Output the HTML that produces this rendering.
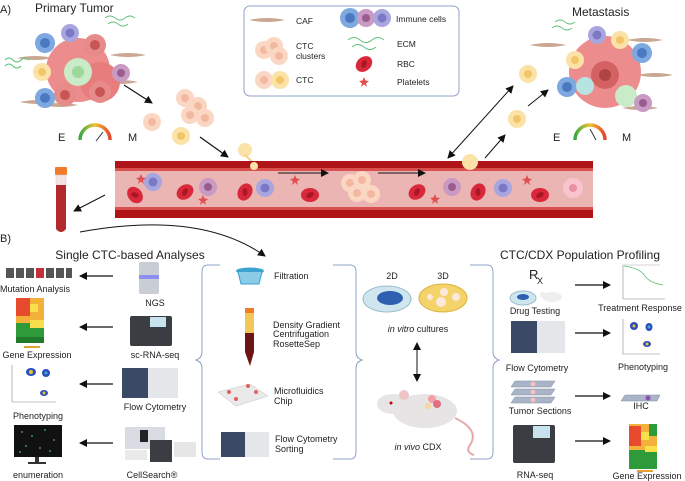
<!DOCTYPE html>
<html><head><meta charset="utf-8"><style>
html,body{margin:0;padding:0;background:#fff;}
svg{display:block;font-family:"Liberation Sans",sans-serif;}
</style></head><body>
<svg width="685" height="481" viewBox="0 0 685 481" xmlns="http://www.w3.org/2000/svg">
<defs>
<marker id="ah" markerWidth="8" markerHeight="8" refX="7" refY="4" orient="auto" markerUnits="userSpaceOnUse"><path d="M0,0 L8,4 L0,8 z" fill="#111"/></marker>
<marker id="ahs" markerWidth="8" markerHeight="8" refX="1" refY="4" orient="auto" markerUnits="userSpaceOnUse"><path d="M8,0 L0,4 L8,8 z" fill="#111"/></marker>
<linearGradient id="g1"><stop offset="0" stop-color="#3aa845"/><stop offset="0.5" stop-color="#f2c12e"/><stop offset="1" stop-color="#e3462e"/></linearGradient>
<g id="rbc"><ellipse rx="9" ry="7" fill="#d8283a"/><ellipse rx="4" ry="2.5" fill="#a81726" transform="rotate(-30)"/></g>
<g id="blue"><circle r="10" fill="#7ea8e0"/><circle r="5" fill="#4b78c0"/></g>
<g id="lav"><circle r="9" fill="#a9a6df"/><circle r="4.5" fill="#7b78c6"/></g>
<g id="purp"><circle r="9" fill="#c99ac3"/><circle r="4" fill="#9a5b8e"/></g>
<g id="red"><circle r="11" fill="#e78a8a"/><circle r="5" fill="#c95555"/></g>
<g id="yel"><circle r="9" fill="#fbe2a6"/><circle r="4" fill="#f3c56b"/></g>
<g id="pea"><circle r="9" fill="#fbd7c3"/><circle r="4" fill="#f2b9a0"/></g>
<g id="caf"><path d="M-18,0 Q0,-4 18,0 Q0,4 -18,0z" fill="#c9a792"/></g>
<g id="plt"><path d="M0,-5 L1.5,-1.5 5,-1 2,1.5 3,5 0,2.5 -3,5 -2,1.5 -5,-1 -1.5,-1.5z" fill="#e05050"/></g>
</defs>

<text x="0" y="13" font-size="11" fill="#222">A)</text>
<text x="35" y="12" font-size="12" fill="#222">Primary Tumor</text>

<!-- primary tumor cluster -->
<g>
<use href="#caf" x="35" y="58"/><use href="#caf" x="128" y="55"/><use href="#caf" x="38" y="102"/><use href="#caf" x="60" y="105"/><use href="#caf" x="120" y="82"/>
<circle cx="78" cy="70" r="32" fill="#ec8c8c"/>
<circle cx="100" cy="82" r="20" fill="#e77d7d"/>
<use href="#red" x="95" y="45"/><use href="#red" x="65" y="95"/><use href="#red" x="100" y="92"/>
<use href="#blue" x="45" y="43"/><use href="#lav" x="70" y="33"/><use href="#yel" x="42" y="72"/>
<circle cx="78" cy="72" r="14" fill="#c9ebc7"/><circle cx="78" cy="72" r="6" fill="#9fd89d"/>
<use href="#blue" x="45" y="98"/><use href="#purp" x="121" y="73"/>
<path d="M105,18 q5,-4 10,0 t10,0 t10,0 M108,24 q5,-4 10,0 t10,0" stroke="#5fc27a" stroke-width="1" fill="none"/>
<path d="M5,60 q4,-4 8,0 t8,0 t8,0 M5,66 q4,-4 8,0 t8,0" stroke="#5fc27a" stroke-width="1" fill="none"/>
</g>
<line x1="124" y1="85" x2="152" y2="103" stroke="#111" stroke-width="1.2" marker-end="url(#ah)"/>

<use href="#pea" x="152" y="122"/>
<use href="#pea" x="185" y="98"/><use href="#pea" x="198" y="106"/><use href="#pea" x="190" y="115"/><use href="#pea" x="205" y="118"/>
<use href="#yel" x="181" y="136"/>
<line x1="200" y1="137" x2="228" y2="157" stroke="#111" stroke-width="1.2" marker-end="url(#ah)"/>
<circle cx="245" cy="150" r="7" fill="#fbe2a6"/><path d="M245,155 L259,168" stroke="#f3d38a" stroke-width="2"/>

<text x="58" y="141" font-size="11" fill="#222">E</text>
<path d="M80,140 A15,15 0 0 1 110,140" stroke="url(#g1)" stroke-width="3.5" fill="none"/>
<line x1="96" y1="141" x2="103" y2="132" stroke="#333" stroke-width="1"/>
<text x="128" y="141" font-size="11" fill="#222">M</text>
<text x="553" y="141" font-size="11" fill="#222">E</text>
<path d="M575,140 A15,15 0 0 1 605,140" stroke="url(#g1)" stroke-width="3.5" fill="none"/>
<line x1="590" y1="129" x2="596" y2="140" stroke="#333" stroke-width="1"/>
<text x="622" y="141" font-size="11" fill="#222">M</text>

<!-- legend -->
<rect x="244" y="6" width="215" height="90" rx="6" fill="#fff" stroke="#8ea3c7" stroke-width="1"/>
<use href="#caf" x="267" y="20"/><text x="296" y="24" font-size="8.5" fill="#222">CAF</text>
<use href="#blue" x="350" y="18"/><use href="#purp" x="366" y="18"/><use href="#lav" x="382" y="18"/>
<text x="396" y="22" font-size="8.5" fill="#222">Immune cells</text>
<use href="#pea" x="264" y="50"/><use href="#pea" x="274" y="46"/><use href="#pea" x="279" y="56"/>
<text x="296" y="49" font-size="8.5" fill="#222">CTC</text><text x="296" y="59" font-size="8.5" fill="#222">clusters</text>
<path d="M348,40 q6,-5 12,0 t12,0 t12,0 M352,47 q6,-5 12,0 t12,0" stroke="#5fc27a" stroke-width="1" fill="none"/>
<text x="397" y="47" font-size="8.5" fill="#222">ECM</text>
<use href="#rbc" x="364" y="64" transform="rotate(-40 364 64)"/><text x="397" y="67" font-size="8.5" fill="#222">RBC</text>
<use href="#pea" x="264" y="80"/><use href="#yel" x="280" y="80"/>
<text x="296" y="83" font-size="8.5" fill="#222">CTC</text>
<use href="#plt" x="364" y="82"/><text x="397" y="85" font-size="8.5" fill="#222">Platelets</text>

<!-- metastasis -->
<text x="572" y="16" font-size="12" fill="#222">Metastasis</text>
<g>
<use href="#caf" x="548" y="45"/><use href="#caf" x="645" y="40"/><use href="#caf" x="655" y="75"/><use href="#caf" x="640" y="108"/>
<circle cx="605" cy="72" r="36" fill="#ec8c8c"/>
<use href="#lav" x="597" y="35"/><use href="#yel" x="620" y="40"/><use href="#yel" x="575" y="60"/>
<use href="#blue" x="642" y="53"/><circle cx="605" cy="75" r="14" fill="#d46262"/><circle cx="605" cy="75" r="6" fill="#b04444"/>
<use href="#blue" x="567" y="87"/><circle cx="585" cy="86" r="9" fill="#b7e3e0"/>
<circle cx="626" cy="96" r="11" fill="#c9ebc7"/><use href="#purp" x="643" y="103"/>
<path d="M555,22 q5,-4 10,0 t10,0 M552,28 q5,-4 10,0 t10,0" stroke="#5fc27a" stroke-width="1" fill="none"/>
</g>
<use href="#yel" x="528" y="74"/><use href="#yel" x="517" y="119"/>
<line x1="513" y1="86" x2="448" y2="158" stroke="#111" stroke-width="1" marker-start="url(#ahs)" marker-end="url(#ah)"/>
<line x1="485" y1="158" x2="505" y2="135" stroke="#111" stroke-width="1" marker-end="url(#ah)"/>
<line x1="528" y1="106" x2="548" y2="90" stroke="#111" stroke-width="1" marker-end="url(#ah)"/>

<!-- vessel -->
<rect x="115" y="161" width="478" height="57" fill="#b01418"/>
<rect x="115" y="168" width="478" height="3" fill="#d9504f"/>
<rect x="115" y="171" width="478" height="36" fill="#eab5b2"/>
<rect x="115" y="207" width="478" height="3" fill="#d9504f"/>
<circle cx="470" cy="162" r="8" fill="#fbe2a6"/>
<circle cx="254" cy="166" r="4" fill="#fbe2a6"/>
<line x1="278" y1="173" x2="328" y2="173" stroke="#111" stroke-width="1" marker-end="url(#ah)"/>
<line x1="378" y1="173" x2="425" y2="173" stroke="#111" stroke-width="1" marker-end="url(#ah)"/>
<use href="#rbc" x="135" y="195" transform="rotate(50 135 195)"/><use href="#lav" x="153" y="182"/><use href="#plt" x="141" y="179"/>
<use href="#rbc" x="185" y="192" transform="rotate(-35 185 192)"/><use href="#purp" x="208" y="187"/><use href="#plt" x="203" y="200"/>
<use href="#rbc" x="245" y="192" transform="rotate(-60 245 192)"/><use href="#lav" x="265" y="188"/><use href="#plt" x="295" y="180"/>
<use href="#rbc" x="310" y="195"/>
<use href="#pea" x="350" y="183"/><use href="#pea" x="362" y="180"/><use href="#pea" x="357" y="193"/><use href="#pea" x="371" y="194"/>
<use href="#rbc" x="417" y="192" transform="rotate(-35 417 192)"/><use href="#plt" x="435" y="199"/><use href="#purp" x="452" y="187"/>
<use href="#rbc" x="478" y="192" transform="rotate(-60 478 192)"/><use href="#lav" x="503" y="188"/><use href="#plt" x="527" y="180"/>
<use href="#rbc" x="540" y="195"/><circle cx="573" cy="188" r="10" fill="#f8c5cf"/><circle cx="573" cy="188" r="4" fill="#ec8fa2"/>

<!-- tube -->
<rect x="55" y="167" width="12" height="8" rx="1" fill="#f27a28"/>
<rect x="56" y="175" width="10" height="10" fill="#f3e3e3" stroke="#ccc" stroke-width="0.5"/>
<path d="M56,185 L66,185 L66,229 Q61,235 56,229 Z" fill="#b32a2e"/>
<line x1="105" y1="195" x2="74" y2="211" stroke="#111" stroke-width="1" marker-end="url(#ah)"/>
<path d="M80,232 Q200,210 265,256" stroke="#111" stroke-width="1" fill="none" marker-end="url(#ah)"/>

<!-- B) -->
<text x="0" y="242" font-size="11" fill="#222">B)</text>
<text x="130" y="259" font-size="12" fill="#222" text-anchor="middle">Single CTC-based Analyses</text>
<text x="580" y="259" font-size="12" fill="#222" text-anchor="middle">CTC/CDX Population Profiling</text>

<g font-size="9" fill="#222" text-anchor="middle">
<text x="35" y="292">Mutation Analysis</text>
<text x="155" y="306">NGS</text>
<text x="37" y="358">Gene Expression</text>
<text x="155" y="358">sc-RNA-seq</text>
<text x="38" y="419">Phenotyping</text>
<text x="155" y="410">Flow Cytometry</text>
<text x="38" y="478">enumeration</text>
<text x="152" y="478">CellSearch®</text>
</g>
<g stroke="#111" stroke-width="1.2">
<line x1="113" y1="276" x2="80" y2="276" marker-end="url(#ah)"/>
<line x1="113" y1="327" x2="80" y2="327" marker-end="url(#ah)"/>
<line x1="113" y1="384" x2="80" y2="384" marker-end="url(#ah)"/>
<line x1="113" y1="443" x2="80" y2="443" marker-end="url(#ah)"/>
</g>
<g>
<rect x="6" y="268" width="8" height="10" fill="#555"/><rect x="16" y="268" width="8" height="10" fill="#555"/><rect x="26" y="268" width="8" height="10" fill="#555"/><rect x="36" y="268" width="8" height="10" fill="#c2303a"/><rect x="46" y="268" width="8" height="10" fill="#555"/><rect x="56" y="268" width="8" height="10" fill="#555"/><rect x="66" y="268" width="6" height="10" fill="#555"/>
</g>
<g>
<rect x="16" y="298" width="28" height="45" fill="#f3b13a"/>
<rect x="16" y="298" width="14" height="18" fill="#e84a2e"/><rect x="30" y="304" width="8" height="8" fill="#f7e04b"/>
<rect x="16" y="323" width="28" height="20" fill="#2f9a3a"/><rect x="30" y="320" width="14" height="8" fill="#f7e04b"/><rect x="16" y="337" width="28" height="6" fill="#1f7a2a"/>
<rect x="24" y="346" width="16" height="2" fill="#e8a030"/>
</g>
<g>
<line x1="12" y1="365" x2="12" y2="402" stroke="#888" stroke-width="0.6"/><line x1="12" y1="402" x2="56" y2="402" stroke="#888" stroke-width="0.6"/>
<ellipse cx="31" cy="372" rx="5" ry="4" fill="#2c4dbf"/><circle cx="31" cy="372" r="2" fill="#e6c52a"/>
<ellipse cx="46" cy="373" rx="4" ry="4" fill="#2c4dbf"/><circle cx="46" cy="373" r="1.5" fill="#3ab3c8"/>
<ellipse cx="44" cy="393" rx="4" ry="3" fill="#2c4dbf"/><circle cx="44" cy="393" r="1.5" fill="#e6c52a"/>
</g>
<rect x="14" y="425" width="48" height="32" fill="#111"/><rect x="35" y="457" width="4" height="6" fill="#333"/><rect x="28" y="462" width="18" height="2" fill="#333"/>
<g fill="#3a8a9a"><circle cx="22" cy="432" r="1"/><circle cx="32" cy="436" r="1"/><circle cx="45" cy="430" r="1"/><circle cx="54" cy="440" r="1"/><circle cx="26" cy="446" r="1"/><circle cx="40" cy="448" r="1"/><circle cx="50" cy="451" r="1"/><circle cx="20" cy="452" r="1"/></g>
<rect x="139" y="262" width="20" height="32" rx="2" fill="#c9cdd4"/><rect x="139" y="275" width="20" height="4" fill="#8a8ff0"/>
<rect x="130" y="316" width="42" height="30" rx="2" fill="#3a3d42"/><rect x="150" y="317" width="16" height="10" fill="#c9e3ee"/>
<rect x="122" y="368" width="26" height="30" fill="#3a4a66"/><rect x="148" y="368" width="30" height="30" fill="#e4e6ea"/>
<rect x="125" y="427" width="40" height="22" fill="#d9dce2"/><rect x="140" y="430" width="8" height="12" fill="#222"/><rect x="150" y="440" width="22" height="22" fill="#3a3d42"/><rect x="174" y="442" width="22" height="15" fill="#e6e6e6"/><rect x="125" y="450" width="22" height="10" fill="#eaeaea"/>

<g stroke="#8ea3c7" stroke-width="1" fill="none">
<path d="M220,265 L208,265 Q202,265 202,272 L202,352 Q202,358 196,360 Q202,362 202,368 L202,452 Q202,459 208,459 L220,459"/>
<path d="M333,265 L350,265 Q356,265 356,272 L356,352 Q356,358 362,360 Q356,362 356,368 L356,452 Q356,459 350,459 L333,459"/>
<path d="M470,265 L487,265 Q493,265 493,272 L493,352 Q493,358 499,360 Q493,362 493,368 L493,452 Q493,459 487,459 L470,459"/>
</g>

<g>
<ellipse cx="250" cy="271" rx="14" ry="3.5" fill="#3ba2d2"/><path d="M238,272 L241,284 L259,284 L262,272" fill="#8ccbe6" stroke="#3ba2d2"/>
<rect x="245" y="308" width="9" height="5" fill="#f27a28"/><path d="M245,313 L254,313 L254,352 L250,366 L245,352Z" fill="#f2c75a"/><path d="M245,333 L254,333 L254,352 L250,366 L245,352Z" fill="#6b1515"/>
<path d="M218,392 L250,384 L268,396 L236,406Z" fill="#eaeaea" stroke="#ccc" stroke-width="0.6"/><circle cx="229" cy="392" r="2" fill="#e06060"/><circle cx="256" cy="392" r="2" fill="#e06060"/><circle cx="236" cy="399" r="2" fill="#e06060"/><circle cx="248" cy="386" r="2" fill="#e06060"/>
<rect x="221" y="432" width="24" height="25" fill="#3a4a66"/><rect x="245" y="432" width="24" height="25" fill="#e4e6ea"/>
</g>
<g font-size="9" fill="#222">
<text x="274" y="279">Filtration</text>
<text x="273" y="328">Density Gradient</text>
<text x="273" y="337">Centrifugation</text>
<text x="273" y="347">RosetteSep</text>
<text x="274" y="394">Microfluidics</text>
<text x="274" y="404">Chip</text>
<text x="275" y="442">Flow Cytometry</text>
<text x="275" y="452">Sorting</text>
</g>

<text x="392" y="279" font-size="9" fill="#222" text-anchor="middle">2D</text>
<text x="443" y="279" font-size="9" fill="#222" text-anchor="middle">3D</text>
<ellipse cx="387" cy="299" rx="24" ry="13" fill="#cfe6ef" stroke="#9bbccc"/>
<ellipse cx="390" cy="298" rx="13" ry="7" fill="#2f5fb0"/>
<ellipse cx="443" cy="298" rx="24" ry="14" fill="#f3d36a" stroke="#d9b440"/>
<circle cx="444" cy="292" r="4" fill="#fde8dc"/><circle cx="441" cy="302" r="5" fill="#fde8dc"/><circle cx="456" cy="297" r="4" fill="#fde8dc"/><circle cx="430" cy="297" r="3" fill="#fde8dc"/>
<text x="418" y="332" font-size="9" fill="#222" text-anchor="middle"><tspan font-style="italic">in vitro</tspan> cultures</text>
<line x1="417" y1="343" x2="417" y2="381" stroke="#111" stroke-width="1" marker-start="url(#ahs)" marker-end="url(#ah)"/>
<g>
<ellipse cx="425" cy="411" rx="32" ry="17" fill="#e6e4e4"/>
<ellipse cx="393" cy="404" rx="16" ry="10" fill="#e6e4e4"/>
<circle cx="404" cy="395" r="5" fill="#eec4c4"/><circle cx="391" cy="403" r="1.5" fill="#c00"/>
<path d="M455,418 Q480,430 470,445 Q465,452 474,455" stroke="#e9a8a8" stroke-width="2" fill="none"/>
<circle cx="432" cy="399" r="4" fill="#f4a0a8"/><circle cx="437" cy="404" r="4" fill="#e07080"/><circle cx="428" cy="406" r="3" fill="#f7d6a0"/>
</g>
<text x="418" y="450" font-size="9" fill="#222" text-anchor="middle"><tspan font-style="italic">in vivo</tspan> CDX</text>

<text x="529" y="279" font-size="13" fill="#222">R</text><text x="537" y="284" font-size="9" fill="#222">X</text>
<ellipse cx="523" cy="298" rx="13" ry="7" fill="#cfe6ef" stroke="#9bbccc"/><ellipse cx="523" cy="297" rx="6" ry="3" fill="#2f5fb0"/>
<ellipse cx="552" cy="297" rx="10" ry="5" fill="#f0eded"/><circle cx="543" cy="295" r="3" fill="#f0eded"/>
<g font-size="9" fill="#222" text-anchor="middle">
<text x="535" y="314">Drug Testing</text>
<text x="640" y="311">Treatment Response</text>
<text x="537" y="371">Flow Cytometry</text>
<text x="643" y="370">Phenotyping</text>
<text x="540" y="414">Tumor Sections</text>
<text x="641" y="409">IHC</text>
<text x="535" y="478">RNA-seq</text>
<text x="647" y="479">Gene Expression</text>
</g>
<g stroke="#111" stroke-width="1.2">
<line x1="575" y1="285" x2="610" y2="285" marker-end="url(#ah)"/>
<line x1="575" y1="333" x2="610" y2="333" marker-end="url(#ah)"/>
<line x1="575" y1="396" x2="610" y2="396" marker-end="url(#ah)"/>
<line x1="575" y1="441" x2="610" y2="441" marker-end="url(#ah)"/>
</g>
<line x1="623" y1="265" x2="623" y2="299" stroke="#888" stroke-width="0.6"/><line x1="623" y1="299" x2="665" y2="299" stroke="#888" stroke-width="0.6"/>
<line x1="623" y1="265" x2="660" y2="265" stroke="#aaa" stroke-width="0.6"/>
<path d="M624,266 Q640,268 645,276 Q650,283 663,285" stroke="#5fc27a" stroke-width="0.8" fill="none"/>
<line x1="623" y1="319" x2="623" y2="354" stroke="#888" stroke-width="0.6"/><line x1="623" y1="354" x2="660" y2="354" stroke="#888" stroke-width="0.6"/>
<ellipse cx="634" cy="326" rx="4" ry="4" fill="#2c4dbf"/><circle cx="634" cy="326" r="1.5" fill="#e6c52a"/>
<ellipse cx="649" cy="327" rx="3.5" ry="4" fill="#2c4dbf"/><circle cx="649" cy="327" r="1.5" fill="#3ab3c8"/>
<ellipse cx="647" cy="344" rx="4" ry="3" fill="#2c4dbf"/><circle cx="647" cy="344" r="1.5" fill="#e6c52a"/>
<rect x="511" y="321" width="26" height="32" fill="#3a4a66"/><rect x="537" y="321" width="28" height="32" fill="#e4e6ea"/>
<g fill="#aab4c8" stroke="#7e8aa0" stroke-width="0.5">
<path d="M515,381 L555,381 L551,387 L511,387Z"/><path d="M515,389 L555,389 L551,395 L511,395Z"/><path d="M515,397 L555,397 L551,403 L511,403Z"/>
</g>
<circle cx="533" cy="384" r="2.5" fill="#f7c0b8"/><circle cx="533" cy="392" r="2.5" fill="#f7c0b8"/><circle cx="533" cy="400" r="2.5" fill="#f7c0b8"/>
<path d="M625,395 L660,395 L657,401 L621,401Z" fill="#aab4c8" stroke="#7e8aa0" stroke-width="0.5"/><circle cx="648" cy="398" r="2.5" fill="#8a4fae"/>
<rect x="513" y="425" width="42" height="38" rx="2" fill="#3a3d42"/><rect x="533" y="426" width="17" height="12" fill="#c9e3ee"/>
<rect x="629" y="424" width="28" height="45" fill="#f3b13a"/>
<rect x="629" y="426" width="12" height="20" fill="#e84a2e"/><rect x="641" y="432" width="8" height="8" fill="#f7e04b"/>
<rect x="629" y="450" width="28" height="19" fill="#2f9a3a"/><rect x="645" y="446" width="12" height="6" fill="#f7e04b"/><rect x="649" y="424" width="8" height="12" fill="#2f9a3a"/>
<rect x="637" y="470" width="16" height="2" fill="#e8a030"/>
</svg>
</body></html>
